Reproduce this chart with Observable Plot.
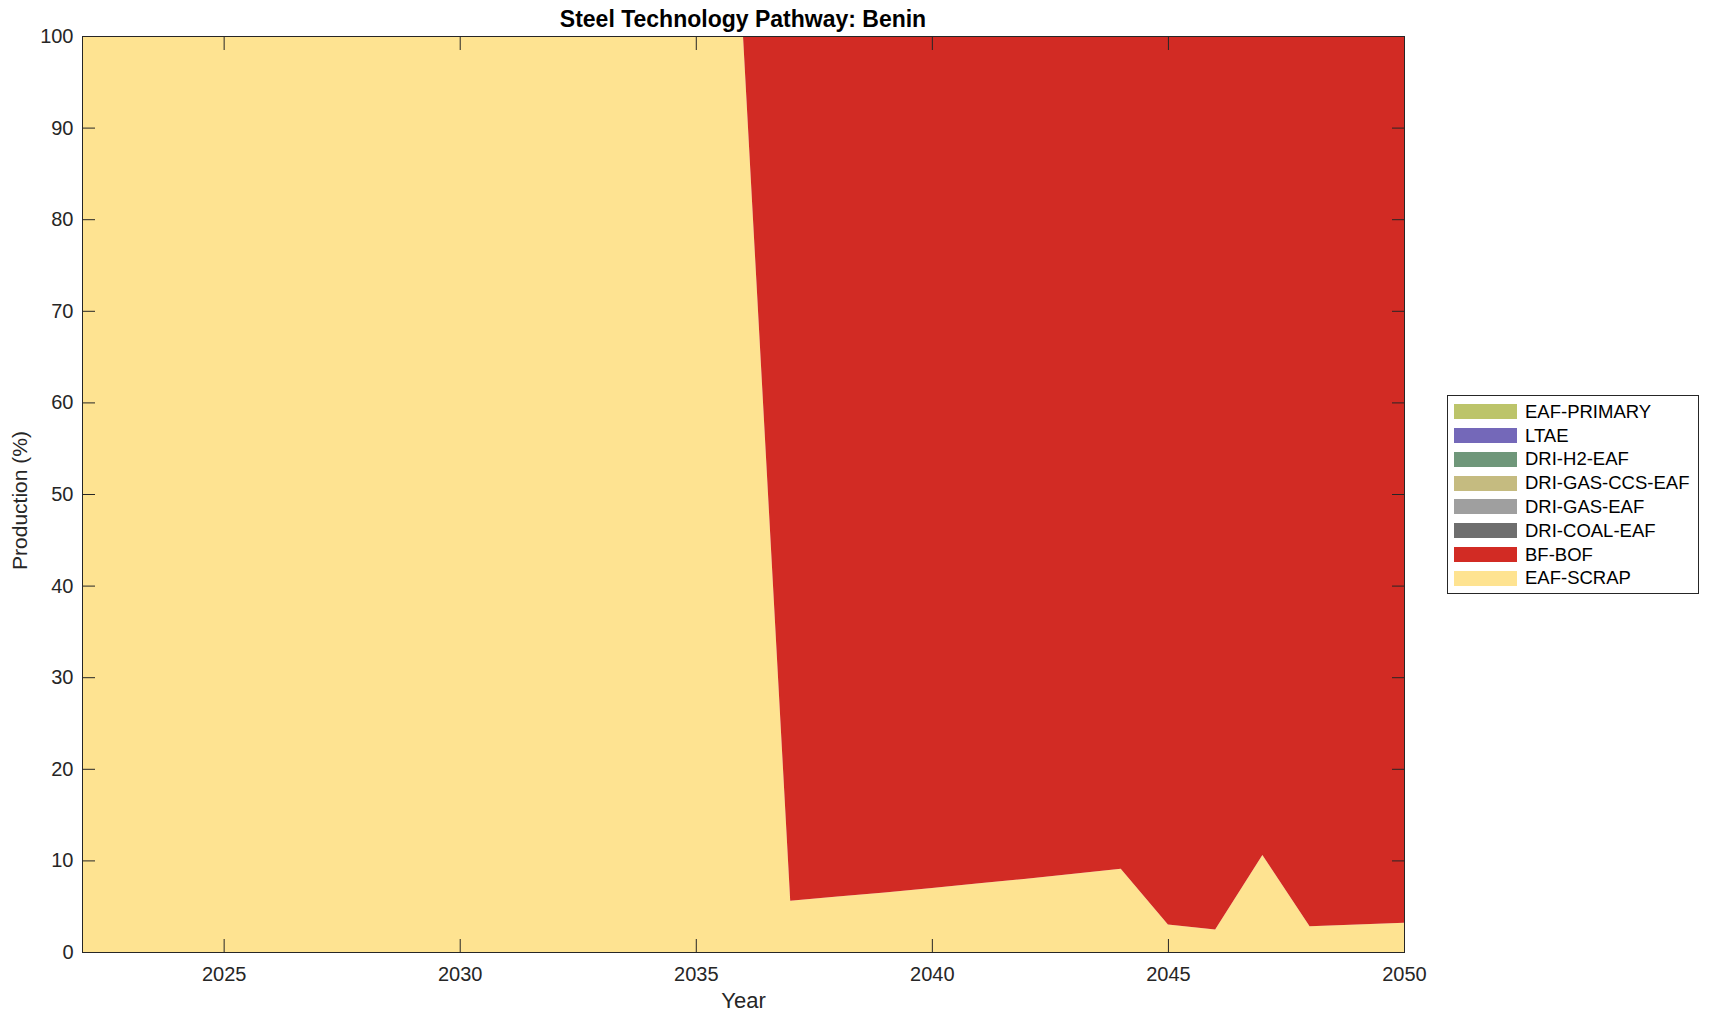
<!DOCTYPE html>
<html>
<head>
<meta charset="utf-8">
<script src="https://cdn.jsdelivr.net/npm/d3@7"></script>
<script src="https://cdn.jsdelivr.net/npm/@observablehq/plot@0.6"></script>
<style>
  html, body { margin: 0; padding: 0; background: #fff; overflow: hidden; }
  #wrap { position: relative; width: 1709px; height: 1021px; font-family: "Liberation Sans", Arial, Helvetica, sans-serif; color: #262626; }
  #title { position: absolute; left: 82px; width: 1322px; top: 6px; text-align: center; font-weight: bold; font-size: 23px; color: #000; }
  #legend { position: absolute; left: 1447px; top: 395px; width: 252px; height: 199px; border: 1px solid #262626; background: #fff; box-sizing: border-box; }
  .row { position: absolute; left: 6px; height: 16px; display: flex; align-items: center; }
  .sw { width: 63px; height: 15px; margin-right: 8px; }
  .lab { font-size: 18.5px; color: #000; white-space: nowrap; }
</style>
</head>
<body>
<div id="wrap">
  <div id="chart"></div>
  <div id="title">Steel Technology Pathway: Benin</div>
  <div id="legend"></div>
</div>
<script>
// ---- data ----
const years = [2022,2023,2024,2025,2026,2027,2028,2029,2030,2031,2032,2033,2034,2035,2036,2037,2038,2039,2040,2041,2042,2043,2044,2045,2046,2047,2048,2049,2050];
const eafScrap = [100,100,100,100,100,100,100,100,100,100,100,100,100,100,100,5.6,6.05,6.5,7.0,7.5,8.0,8.55,9.1,3.0,2.45,10.6,2.8,3.0,3.2];
const bfBof    = [0,0,0,0,0,0,0,0,0,0,0,0,0,0,0,94.4,93.95,93.5,93.0,92.5,92.0,91.45,90.9,97.0,97.55,89.4,97.2,97.0,96.8];
const driCoalEaf   = [0,0,0,0,0,0,0,0,0,0,0,0,0,0,0,0,0,0,0,0,0,0,0,0,0,0,0,0,0];
const driGasEaf    = [0,0,0,0,0,0,0,0,0,0,0,0,0,0,0,0,0,0,0,0,0,0,0,0,0,0,0,0,0];
const driGasCcsEaf = [0,0,0,0,0,0,0,0,0,0,0,0,0,0,0,0,0,0,0,0,0,0,0,0,0,0,0,0,0];
const driH2Eaf     = [0,0,0,0,0,0,0,0,0,0,0,0,0,0,0,0,0,0,0,0,0,0,0,0,0,0,0,0,0];
const ltae         = [0,0,0,0,0,0,0,0,0,0,0,0,0,0,0,0,0,0,0,0,0,0,0,0,0,0,0,0,0];
const eafPrimary   = [0,0,0,0,0,0,0,0,0,0,0,0,0,0,0,0,0,0,0,0,0,0,0,0,0,0,0,0,0];

// stacking order, bottom first
const techs  = ["EAF-SCRAP","BF-BOF","DRI-COAL-EAF","DRI-GAS-EAF","DRI-GAS-CCS-EAF","DRI-H2-EAF","LTAE","EAF-PRIMARY"];
const colors = ["#fee391","#d22b24","#6e6e6e","#9f9f9f","#c5bb80","#6f977a","#7468b9","#bcc46a"];
const series = [eafScrap, bfBof, driCoalEaf, driGasEaf, driGasCcsEaf, driH2Eaf, ltae, eafPrimary];

const xTicks = [2025,2030,2035,2040,2045,2050];
const yTicks = [0,10,20,30,40,50,60,70,80,90,100];

const rows = [];
techs.forEach((t, i) => years.forEach((y, j) => rows.push({tech: t, year: y, value: series[i][j]})));

const axisColor = "#262626";
const chart = Plot.plot({
  width: 1709,
  height: 1021,
  marginLeft: 82,
  marginRight: 305,
  marginTop: 36,
  marginBottom: 69,
  style: {fontFamily: "Liberation Sans, Arial, Helvetica, sans-serif", fontSize: "20px", color: axisColor, background: "#fff"},
  x: {domain: [2022, 2050], label: null},
  y: {domain: [0, 100], label: null},
  color: {domain: techs, range: colors},
  marks: [
    Plot.areaY(rows, {x: "year", y: "value", z: "tech", fill: "tech", order: techs}),
    Plot.axisX({anchor: "bottom", ticks: xTicks, tickSize: -13, tickPadding: 27, tickFormat: d3.format("d"), fontSize: 20, color: axisColor, label: null}),
    Plot.axisX({anchor: "top", ticks: xTicks, tickSize: -13, tickFormat: () => "", color: axisColor, label: null}),
    Plot.axisY({anchor: "left", ticks: yTicks, tickSize: -13, tickPadding: 22, tickFormat: d3.format("d"), fontSize: 20, color: axisColor, label: null}),
    Plot.axisY({anchor: "right", ticks: yTicks, tickSize: -13, tickFormat: () => "", color: axisColor, label: null}),
    Plot.frame({stroke: axisColor, strokeWidth: 1}),
    Plot.text(["Year"], {frameAnchor: "bottom", dy: 55, fontSize: 22, fill: axisColor}),
    Plot.text(["Production (%)"], {frameAnchor: "left", dx: -62, dy: 6, rotate: -90, textAnchor: "middle", fontSize: 21, fill: axisColor})
  ]
});
document.getElementById("chart").appendChild(chart);

// legend (top entry = last in stack)
const legend = document.getElementById("legend");
techs.slice().reverse().forEach((t, k) => {
  const i = techs.indexOf(t);
  const row = document.createElement("div");
  row.className = "row";
  row.style.top = (7.7 + k * 23.8) + "px";
  row.innerHTML = `<div class="sw" style="background:${colors[i]}"></div><div class="lab">${t}</div>`;
  legend.appendChild(row);
});
</script>
</body>
</html>
